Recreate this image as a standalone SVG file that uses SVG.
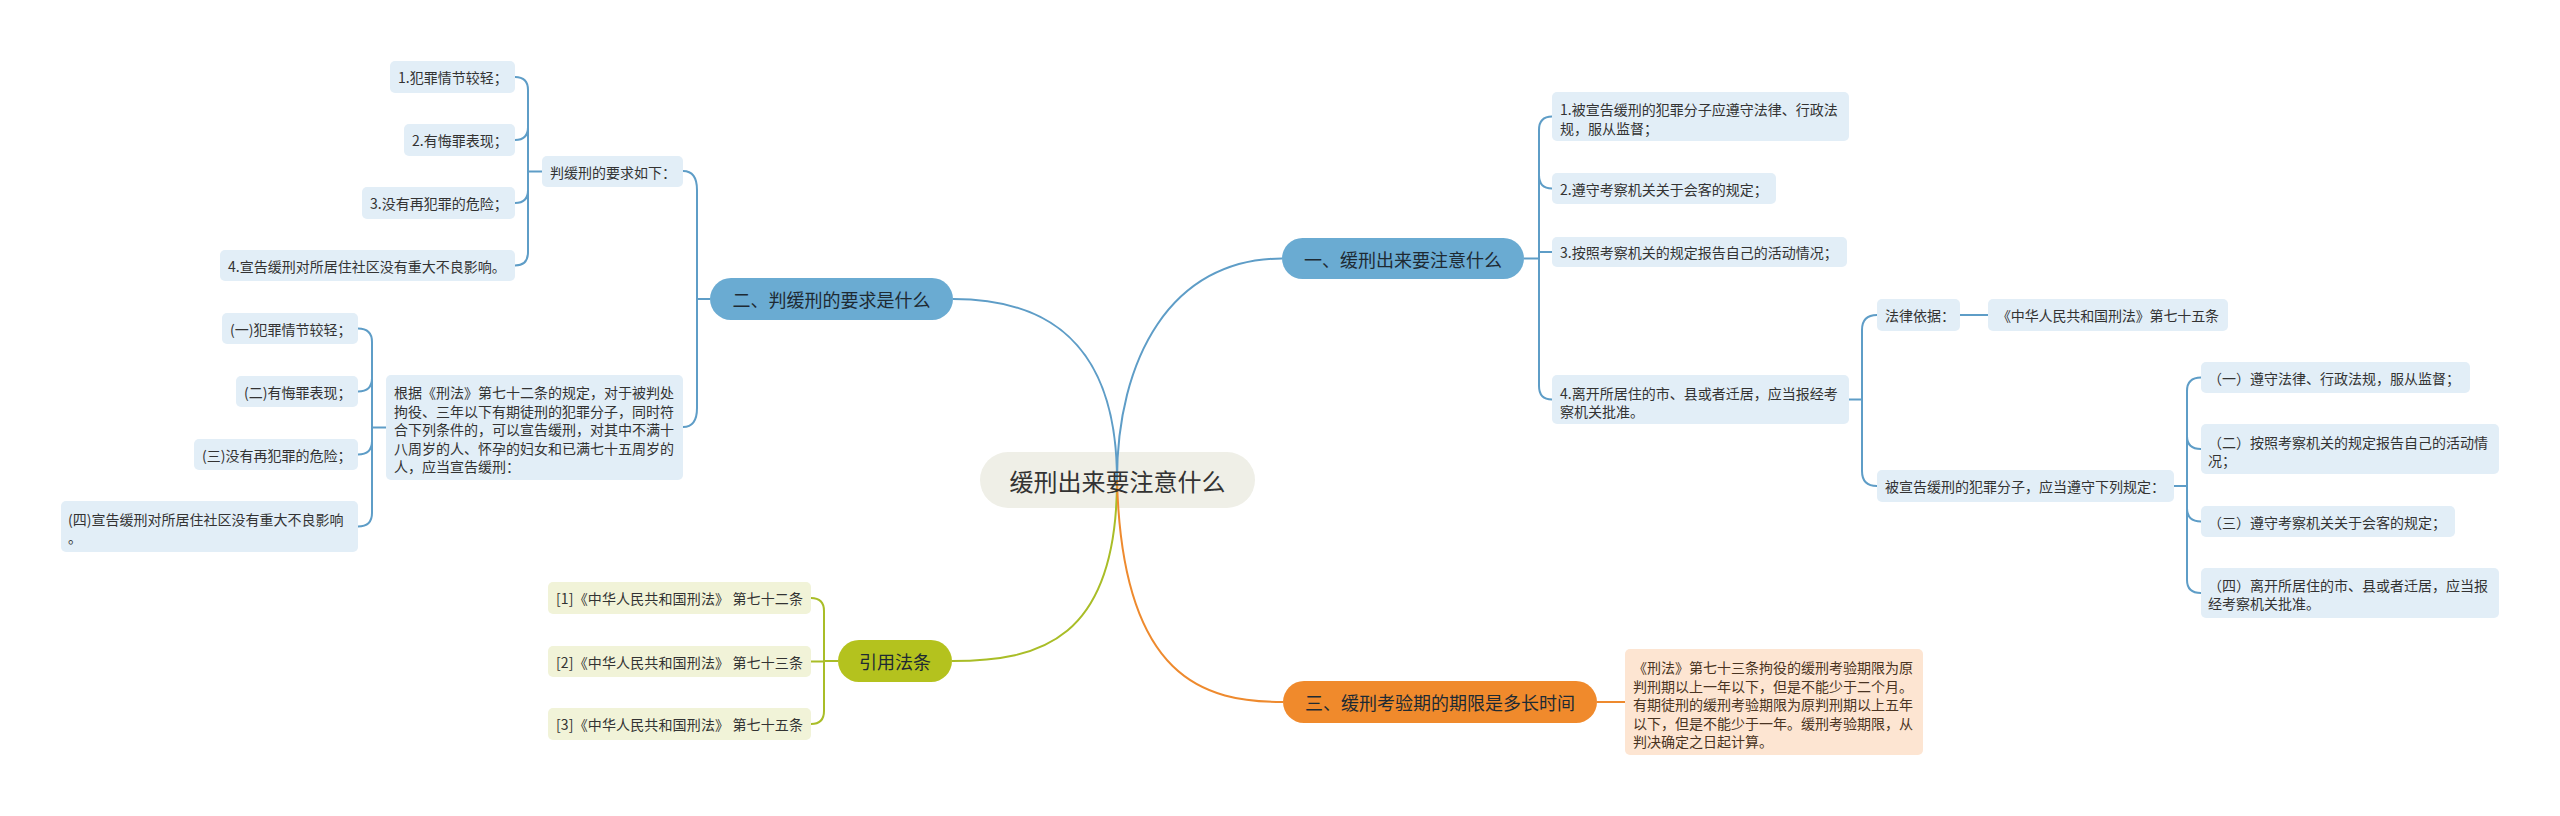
<svg xmlns="http://www.w3.org/2000/svg" width="2560" height="816" viewBox="0 0 2560 816">
<style>
text{font-family:"Noto Sans CJK SC","Noto Sans",sans-serif;dominant-baseline:central}
.t{font-size:14px;fill:#333}
.to{font-size:14px;fill:#4a3422}
.pt{font-size:18px;fill:#1e2a33;text-anchor:middle}
.rt{font-size:24px;fill:#333;text-anchor:middle}
.lb{fill:#e2eef7}
.lg{fill:#f1f3d8}
.lo{fill:#fde5d2}
.pb{fill:#6aabd2}
.cb{stroke:#5e9dc7;stroke-width:2;fill:none}
.cg{stroke:#a9bd27;stroke-width:2;fill:none}
.co{stroke:#ee8a2e;stroke-width:2;fill:none}
</style>
<rect width="2560" height="816" fill="#ffffff"/>
<g id="root-bg"><rect x="980" y="452" width="275" height="56" rx="28" fill="#efefe7"/></g>
<g id="connectors">
<path class="cb" d="M1117,480 C1117,360 1170,258.5 1282,258.5"/>
<path class="cb" d="M1117,480 C1117,360 1064,299 953,299"/>
<path class="cg" d="M1117,480 C1117,640 1040,661 952,661"/>
<path class="co" d="M1117,480 C1122,680 1205,702 1283,702"/>
<path class="cb" d="M710,299 H697 M683,171 C693,171 697,178 697,190 V408 C697,420 693,427 683,427"/>
<path class="cb" d="M542,171.5 H528 M515,77 Q528,77 528,90 V252 Q528,265.5 515,265.5 M528,127 Q528,140 515,140 M528,190 Q528,203 515,203"/>
<path class="cb" d="M386,427.5 H372 M358,328.5 Q372,328.5 372,342 V513 Q372,526.5 358,526.5 M372,378 Q372,391.5 358,391.5 M372,441 Q372,454.5 358,454.5"/>
<path class="cb" d="M1524,258.5 H1539 M1552,116.5 Q1539,116.5 1539,130 V386 Q1539,399.5 1552,399.5 M1539,175 Q1539,188.5 1552,188.5 M1539,252 H1552"/>
<path class="cb" d="M1849,399.5 H1862 M1877,315 Q1862,315 1862,330 V471 Q1862,486 1877,486 M1960,315 H1988"/>
<path class="cb" d="M2174,486 H2187 M2201,377.5 Q2187,377.5 2187,391 V580 Q2187,593 2201,593 M2187,436 Q2187,449 2201,449 M2187,508 Q2187,521.5 2201,521.5"/>
<path class="cg" d="M838,661 H824 M811,598 Q824,598 824,611 V711 Q824,724 811,724 M811,661.5 H824"/>
<path class="co" d="M1597,702 H1625"/>
</g>
<g id="root"><text class="rt" x="1117.5" y="480">缓刑出来要注意什么</text></g>
<g id="b1"><rect class="pb" x="1282" y="238" width="242" height="41" rx="20.5"/><text class="pt" x="1403" y="258.5">一、缓刑出来要注意什么</text></g>
<g id="b2"><rect class="pb" x="710" y="278" width="243" height="42" rx="21"/><text class="pt" x="831.5" y="299">二、判缓刑的要求是什么</text></g>
<g id="b3"><rect x="1283" y="681" width="314" height="42" rx="21" fill="#f08a2c"/><text class="pt" x="1440" y="702">三、缓刑考验期的期限是多长时间</text></g>
<g id="b4"><rect x="838" y="640" width="114" height="42" rx="21" fill="#b4c21e"/><text class="pt" x="895" y="661">引用法条</text></g>
<g id="l1"><rect class="lb" x="390" y="61" width="125" height="32" rx="5"/><text class="t" x="398" y="77">1.犯罪情节较轻；</text></g>
<g id="l2"><rect class="lb" x="404" y="124" width="111" height="32" rx="5"/><text class="t" x="412" y="140">2.有悔罪表现；</text></g>
<g id="l3"><rect class="lb" x="362" y="187" width="153" height="32" rx="5"/><text class="t" x="370" y="203">3.没有再犯罪的危险；</text></g>
<g id="l4"><rect class="lb" x="220" y="250" width="295" height="31" rx="5"/><text class="t" x="228" y="265.5">4.宣告缓刑对所居住社区没有重大不良影响。</text></g>
<g id="p1"><rect class="lb" x="542" y="156" width="141" height="31" rx="5"/><text class="t" x="550" y="171.5">判缓刑的要求如下：</text></g>
<g id="p2"><rect class="lb" x="386" y="375" width="297" height="105" rx="5"/><text class="t" x="394" y="392">根据《刑法》第七十二条的规定，对于被判处</text><text class="t" x="394" y="410.5">拘役、三年以下有期徒刑的犯罪分子，同时符</text><text class="t" x="394" y="429">合下列条件的，可以宣告缓刑，对其中不满十</text><text class="t" x="394" y="447.5">八周岁的人、怀孕的妇女和已满七十五周岁的</text><text class="t" x="394" y="466">人，应当宣告缓刑：</text></g>
<g id="m1"><rect class="lb" x="222" y="313" width="136" height="31" rx="5"/><text class="t" x="230" y="328.5">(一)犯罪情节较轻；</text></g>
<g id="m2"><rect class="lb" x="236" y="376" width="122" height="31" rx="5"/><text class="t" x="244" y="391.5">(二)有悔罪表现；</text></g>
<g id="m3"><rect class="lb" x="194" y="439" width="164" height="31" rx="5"/><text class="t" x="202" y="454.5">(三)没有再犯罪的危险；</text></g>
<g id="m4"><rect class="lb" x="61" y="501" width="297" height="51" rx="5"/><text class="t" x="68" y="519">(四)宣告缓刑对所居住社区没有重大不良影响</text><text class="t" x="68" y="537">。</text></g>
<g id="r1"><rect class="lb" x="1552" y="92" width="297" height="49" rx="5"/><text class="t" x="1560" y="109">1.被宣告缓刑的犯罪分子应遵守法律、行政法</text><text class="t" x="1560" y="128">规，服从监督；</text></g>
<g id="r2"><rect class="lb" x="1552" y="173" width="224" height="31" rx="5"/><text class="t" x="1560" y="188.5">2.遵守考察机关关于会客的规定；</text></g>
<g id="r3"><rect class="lb" x="1552" y="237" width="295" height="30" rx="5"/><text class="t" x="1560" y="252">3.按照考察机关的规定报告自己的活动情况；</text></g>
<g id="r4"><rect class="lb" x="1552" y="375" width="297" height="49" rx="5"/><text class="t" x="1560" y="393">4.离开所居住的市、县或者迁居，应当报经考</text><text class="t" x="1560" y="411">察机关批准。</text></g>
<g id="s1"><rect class="lb" x="1877" y="299" width="83" height="32" rx="5"/><text class="t" x="1885" y="315">法律依据：</text></g>
<g id="s1a"><rect class="lb" x="1988" y="299" width="240" height="32" rx="5"/><text class="t" x="1997" y="315" textLength="222" lengthAdjust="spacing">《中华人民共和国刑法》第七十五条</text></g>
<g id="s2"><rect class="lb" x="1877" y="470" width="297" height="32" rx="5"/><text class="t" x="1885" y="486">被宣告缓刑的犯罪分子，应当遵守下列规定：</text></g>
<g id="t1"><rect class="lb" x="2201" y="362" width="269" height="31" rx="5"/><text class="t" x="2208" y="377.5">（一）遵守法律、行政法规，服从监督；</text></g>
<g id="t2"><rect class="lb" x="2201" y="424" width="298" height="50" rx="5"/><text class="t" x="2208" y="442">（二）按照考察机关的规定报告自己的活动情</text><text class="t" x="2208" y="460">况；</text></g>
<g id="t3"><rect class="lb" x="2201" y="506" width="254" height="31" rx="5"/><text class="t" x="2208" y="521.5">（三）遵守考察机关关于会客的规定；</text></g>
<g id="t4"><rect class="lb" x="2201" y="568" width="298" height="50" rx="5"/><text class="t" x="2208" y="585">（四）离开所居住的市、县或者迁居，应当报</text><text class="t" x="2208" y="603">经考察机关批准。</text></g>
<g id="g1"><rect class="lg" x="548" y="582" width="263" height="32" rx="5"/><text class="t" x="556" y="598" textLength="247" lengthAdjust="spacing">[1]《中华人民共和国刑法》 第七十二条</text></g>
<g id="g2"><rect class="lg" x="548" y="646" width="263" height="31" rx="5"/><text class="t" x="556" y="661.5" textLength="247" lengthAdjust="spacing">[2]《中华人民共和国刑法》 第七十三条</text></g>
<g id="g3"><rect class="lg" x="548" y="708" width="263" height="32" rx="5"/><text class="t" x="556" y="724" textLength="247" lengthAdjust="spacing">[3]《中华人民共和国刑法》 第七十五条</text></g>
<g id="o1"><rect class="lo" x="1625" y="649" width="298" height="106" rx="5"/><text class="to" x="1633" y="667">《刑法》第七十三条拘役的缓刑考验期限为原</text><text class="to" x="1633" y="685.5">判刑期以上一年以下，但是不能少于二个月。</text><text class="to" x="1633" y="704">有期徒刑的缓刑考验期限为原判刑期以上五年</text><text class="to" x="1633" y="722.5">以下，但是不能少于一年。缓刑考验期限，从</text><text class="to" x="1633" y="741">判决确定之日起计算。</text></g>
</svg>
